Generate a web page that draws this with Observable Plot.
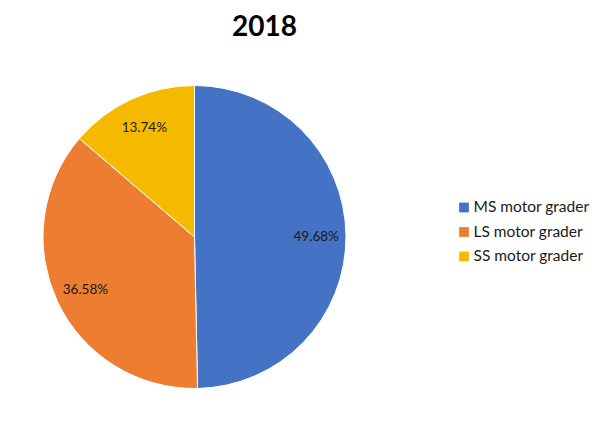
<!DOCTYPE html>
<html>
<head>
<meta charset="utf-8">
<script src="https://cdn.jsdelivr.net/npm/d3@7"></script>
<script src="https://cdn.jsdelivr.net/npm/@observablehq/plot@0.6"></script>
<style>
  body { margin: 0; background: #fff; }
  #chart svg { display: block; font-family: Lato, "Open Sans", sans-serif; }
</style>
</head>
<body>
<div id="chart"></div>
<script>
const title = "2018";
const categories = ["MS motor grader", "LS motor grader", "SS motor grader"];
const shares = [49.68, 36.58, 13.74];
const colors = ["#4472C4", "#ED7D31", "#F5BA00"];

const W = 598, H = 424;
const cx = 194.5, cy = 237, R = 151.5;

const data = categories.map((c, i) => ({category: c, share: shares[i]}));
const arcs = d3.pie().sort(null).value(d => d.share)(data);

// label spots at 80% of the radius along each slice's middle angle
const labels = arcs.map(a => {
  const m = (a.startAngle + a.endAngle) / 2;
  return {
    x: cx + Math.sin(m) * R * 0.8,
    y: cy - Math.cos(m) * R * 0.8,
    text: d3.format(".2f")(a.data.share) + "%"
  };
});

const legend = categories.map((c, i) => ({category: c, row: i}));

function pieMark(index, scales) {
  const g = d3.create("svg:g")
    .attr("transform", `translate(${scales.x(cx)},${scales.y(cy)})`);
  const arc = d3.arc().innerRadius(0).outerRadius(R);
  g.selectAll("path")
    .data(arcs)
    .join("path")
    .attr("d", arc)
    .attr("fill", d => scales.color(d.data.category))
    .attr("stroke", "#fff")
    .attr("stroke-width", 1);
  return g.node();
}

const chart = Plot.plot({
  width: W,
  height: H,
  margin: 0,
  x: {domain: [0, W], range: [0, W], axis: null},
  y: {domain: [0, H], range: [0, H], axis: null},
  color: {domain: categories, range: colors},
  marks: [
    pieMark,
    Plot.text(labels, {
      x: "x", y: "y", text: "text",
      fontSize: 13.5, fill: "#1a1a1a"
    }),
    Plot.text([title], {
      x: 264, y: 27, text: d => d,
      fontSize: 28, fontWeight: "bold", fill: "#000"
    }),
    Plot.dot(legend, {
      x: 463.5, y: d => 207 + d.row * 24.5,
      symbol: "square", r: 5.5, fill: "category", stroke: null
    }),
    Plot.text(legend, {
      x: 473, y: d => 207 + d.row * 24.5, text: "category",
      textAnchor: "start", fontSize: 15.5, fill: "#1a1a1a"
    })
  ]
});

d3.select("#chart").append(() => chart);
</script>
</body>
</html>
